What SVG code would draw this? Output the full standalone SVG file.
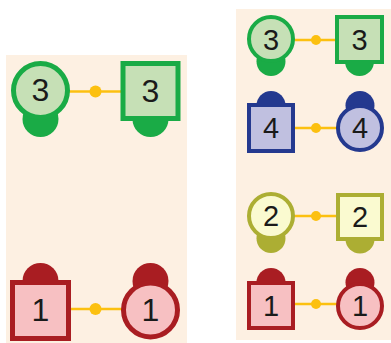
<svg xmlns="http://www.w3.org/2000/svg" width="391" height="343" viewBox="0 0 391 343">
<style>
.bg{fill:#fdf0e2}
.g{stroke:#1aab46;fill:#c6e0b6}
.ge{fill:#1aab46}
.b{stroke:#24398f;fill:#c0c0e0}
.be{fill:#24398f}
.y{stroke:#acae33;fill:#fafad0}
.ye{fill:#acae33}
.r{stroke:#a91d22;fill:#f7c0c2}
.re{fill:#a91d22}
.L{stroke-width:5}
.S{stroke-width:4}
.c{stroke:#fcc010;stroke-width:2.5;fill:none}
.d{fill:#fcc010}
text{font-family:"Liberation Sans",Arial,sans-serif;fill:#1a1a1a;text-anchor:middle;dominant-baseline:central}
.tl{font-size:32px}
.ts{font-size:29px}
</style>
<rect class="bg" x="6" y="55" width="181" height="288"/>
<rect class="bg" x="236" y="9" width="155" height="331"/>
<g id="connectors">
<line class="c" x1="68" y1="91.5" x2="122" y2="91.5"/><circle class="d" cx="95.5" cy="91.5" r="6"/>
<line class="c" x1="68" y1="309" x2="122" y2="309"/><circle class="d" cx="95.5" cy="309" r="6"/>
<line class="c" x1="293" y1="40" x2="337" y2="40"/><circle class="d" cx="316" cy="40" r="5"/>
<line class="c" x1="293" y1="128" x2="337" y2="128"/><circle class="d" cx="316" cy="128" r="5"/>
<line class="c" x1="293" y1="216" x2="337" y2="216"/><circle class="d" cx="316" cy="216" r="5"/>
<line class="c" x1="293" y1="304" x2="337" y2="304"/><circle class="d" cx="316" cy="304" r="5"/>
</g>
<g id="n-l3a"><circle class="ge" cx="40.5" cy="119" r="18"/><circle class="g L" cx="40.5" cy="90.5" r="27"/><text class="tl" x="40.5" y="90">3</text></g>
<g id="n-l3b"><circle class="ge" cx="150.5" cy="119" r="18"/><rect class="g L" x="123" y="63.5" width="55" height="55"/><text class="tl" x="150.5" y="90.5">3</text></g>
<g id="n-l1a"><circle class="re" cx="40.5" cy="281" r="18"/><rect class="r L" x="12.5" y="282.5" width="56" height="56"/><text class="tl" x="40.5" y="310">1</text></g>
<g id="n-l1b"><circle class="re" cx="150.5" cy="281" r="18"/><circle class="r L" cx="150.5" cy="310" r="27"/><text class="tl" x="150.5" y="310">1</text></g>
<g id="n-r3a"><circle class="ge" cx="271" cy="61.5" r="14.5"/><circle class="g S" cx="271" cy="39" r="22"/><text class="ts" x="271" y="39.5">3</text></g>
<g id="n-r3b"><circle class="ge" cx="359.5" cy="61.5" r="14.5"/><rect class="g S" x="337" y="17" width="45" height="45"/><text class="ts" x="359.5" y="39.5">3</text></g>
<g id="n-r4a"><circle class="be" cx="271" cy="105.5" r="14.5"/><rect class="b S" x="249" y="105" width="44" height="46"/><text class="ts" x="271" y="128">4</text></g>
<g id="n-r4b"><circle class="be" cx="360" cy="105.5" r="14.5"/><circle class="b S" cx="360" cy="128" r="22"/><text class="ts" x="360" y="128">4</text></g>
<g id="n-r2a"><circle class="ye" cx="271" cy="238.5" r="14.5"/><circle class="y S" cx="271" cy="216" r="22"/><text class="ts" x="271" y="216">2</text></g>
<g id="n-r2b"><circle class="ye" cx="360" cy="239" r="14.5"/><rect class="y S" x="338" y="195" width="44" height="44"/><text class="ts" x="360" y="217">2</text></g>
<g id="n-r1a"><circle class="re" cx="271" cy="282.5" r="14.5"/><rect class="r S" x="249" y="283" width="44" height="45"/><text class="ts" x="271" y="305.5">1</text></g>
<g id="n-r1b"><circle class="re" cx="360" cy="282.5" r="14.5"/><circle class="r S" cx="360" cy="306" r="22"/><text class="ts" x="360" y="306">1</text></g>
</svg>
